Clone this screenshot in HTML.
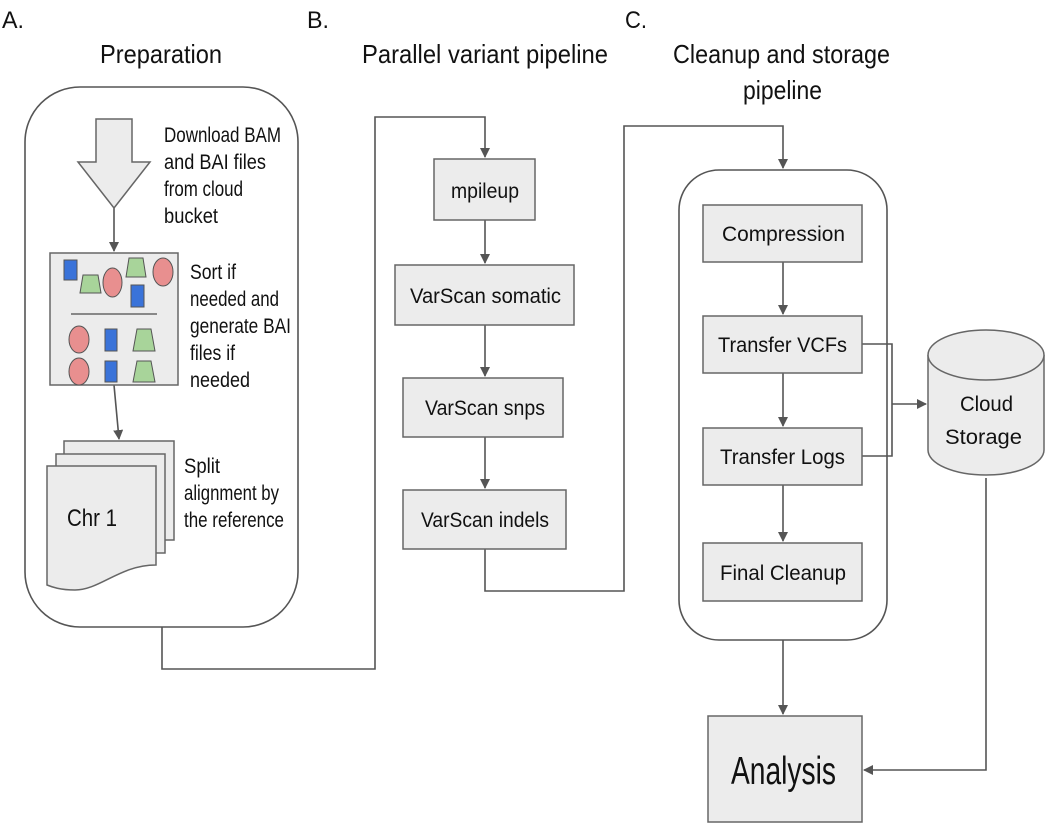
<!DOCTYPE html>
<html><head><style>
html,body{margin:0;padding:0;background:#fff;}
svg{display:block;font-family:"Liberation Sans",sans-serif;}
</style></head><body>
<svg width="1050" height="828" viewBox="0 0 1050 828" xmlns="http://www.w3.org/2000/svg">
<defs>
<marker id="ah" markerWidth="10" markerHeight="10" refX="9" refY="5" orient="auto" markerUnits="userSpaceOnUse">
<path d="M0,0 L10,5 L0,10 z" fill="#555"/></marker>
</defs>
<text x="2" y="28" font-size="24" fill="#111" textLength="22" lengthAdjust="spacingAndGlyphs">A.</text>
<text x="100" y="63" font-size="26" fill="#111" textLength="122" lengthAdjust="spacingAndGlyphs">Preparation</text>
<text x="307" y="28" font-size="24" fill="#111" textLength="22" lengthAdjust="spacingAndGlyphs">B.</text>
<text x="362" y="63" font-size="26" fill="#111" textLength="246" lengthAdjust="spacingAndGlyphs">Parallel variant pipeline</text>
<text x="625" y="28" font-size="24" fill="#111" textLength="22" lengthAdjust="spacingAndGlyphs">C.</text>
<text x="673" y="63" font-size="26" fill="#111" textLength="217" lengthAdjust="spacingAndGlyphs">Cleanup and storage</text>
<text x="743" y="99" font-size="26" fill="#111" textLength="79" lengthAdjust="spacingAndGlyphs">pipeline</text>

<g stroke="#555" stroke-width="1.6" fill="none">
<rect x="25" y="87" width="273" height="540" rx="55"/>
<rect x="679" y="170" width="208" height="470" rx="40"/>
<path d="M162,627 V669 H375 V117 H485 V157" marker-end="url(#ah)"/>
<path d="M485,220 V263" marker-end="url(#ah)"/>
<path d="M485,325 V376" marker-end="url(#ah)"/>
<path d="M485,437 V488" marker-end="url(#ah)"/>
<path d="M485,549 V591 H624 V126 H783 V168" marker-end="url(#ah)"/>
<path d="M783,262 V314" marker-end="url(#ah)"/>
<path d="M783,373 V426" marker-end="url(#ah)"/>
<path d="M783,485 V541" marker-end="url(#ah)"/>
<path d="M783,640 V714" marker-end="url(#ah)"/>
<path d="M862,344 H892 V456 H862"/>
<path d="M892,404 H926" marker-end="url(#ah)"/>
<path d="M986,478 V770 H864" marker-end="url(#ah)"/>
<path d="M114,208 L114,251" marker-end="url(#ah)"/>
<path d="M114,385 L119,439" marker-end="url(#ah)"/>
</g>

<path d="M96,119 H132 V162 H150 L114,208 L78,162 H96 Z" fill="#ececec" stroke="#666" stroke-width="1.5"/>
<rect x="50" y="253" width="128" height="132" fill="#ececec" stroke="#666" stroke-width="1.5"/>
<line x1="71" y1="314" x2="157" y2="314" stroke="#666" stroke-width="1.5"/>
<g stroke="#555" stroke-width="1">
<rect x="64" y="260" width="13" height="20" fill="#3a73d9"/>
<rect x="131" y="285" width="13" height="22" fill="#3a73d9"/>
<rect x="105" y="329" width="12" height="22" fill="#3a73d9"/>
<rect x="105" y="361" width="12" height="21" fill="#3a73d9"/>
<path d="M83,275 H98 L101,293 H80 Z" fill="#a8d49a"/>
<path d="M129,258 H143 L146,277 H126 Z" fill="#a8d49a"/>
<path d="M137,329 H151 L155,351 H133 Z" fill="#a8d49a"/>
<path d="M137,361 H151 L155,382 H133 Z" fill="#a8d49a"/>
<ellipse cx="112.5" cy="282.5" rx="9.5" ry="14.5" fill="#e88f8f"/>
<ellipse cx="163" cy="272" rx="10" ry="14" fill="#e88f8f"/>
<ellipse cx="79" cy="339.5" rx="10" ry="13.5" fill="#e88f8f"/>
<ellipse cx="79" cy="371.5" rx="10" ry="13.5" fill="#e88f8f"/>
</g>
<g fill="#ececec" stroke="#666" stroke-width="1.5">
<rect x="64" y="441" width="110" height="99"/>
<rect x="56" y="454" width="109" height="99"/>
<path d="M47,466 H156 V565 C120,565 100,590 75,590 C60,590 52,587 47,585 Z"/>
</g>
<text x="67" y="526" font-size="24" fill="#111" textLength="50" lengthAdjust="spacingAndGlyphs">Chr 1</text>

<g font-size="21" fill="#111">
<text x="164" y="142" textLength="117" lengthAdjust="spacingAndGlyphs">Download BAM</text>
<text x="164" y="169" textLength="102" lengthAdjust="spacingAndGlyphs">and BAI files</text>
<text x="164" y="196" textLength="79" lengthAdjust="spacingAndGlyphs">from cloud</text>
<text x="164" y="223" textLength="54" lengthAdjust="spacingAndGlyphs">bucket</text>
<text x="190" y="279" textLength="46" lengthAdjust="spacingAndGlyphs">Sort if</text>
<text x="190" y="306" textLength="89" lengthAdjust="spacingAndGlyphs">needed and</text>
<text x="190" y="333" textLength="101" lengthAdjust="spacingAndGlyphs">generate BAI</text>
<text x="190" y="360" textLength="45" lengthAdjust="spacingAndGlyphs">files if</text>
<text x="190" y="387" textLength="60" lengthAdjust="spacingAndGlyphs">needed</text>
<text x="184" y="473" textLength="36" lengthAdjust="spacingAndGlyphs">Split</text>
<text x="184" y="500" textLength="95" lengthAdjust="spacingAndGlyphs">alignment by</text>
<text x="184" y="527" textLength="100" lengthAdjust="spacingAndGlyphs">the reference</text>
</g>

<g fill="#ececec" stroke="#666" stroke-width="1.5">
<rect x="434" y="159" width="101" height="61"/>
<rect x="395" y="265" width="179" height="60"/>
<rect x="403" y="378" width="160" height="59"/>
<rect x="403" y="490" width="163" height="59"/>
<rect x="703" y="205" width="159" height="57"/>
<rect x="703" y="316" width="159" height="57"/>
<rect x="703" y="428" width="159" height="57"/>
<rect x="703" y="543" width="159" height="58"/>
<rect x="708" y="716" width="154" height="106"/>
<path d="M928,355 V450 A58,25 0 0 0 1044,450 V355"/>
<ellipse cx="986" cy="355" rx="58" ry="25"/>
</g>
<g font-size="21" fill="#111">
<text x="451" y="198" textLength="68" lengthAdjust="spacingAndGlyphs">mpileup</text>
<text x="410" y="303" textLength="151" lengthAdjust="spacingAndGlyphs">VarScan somatic</text>
<text x="425" y="415" textLength="120" lengthAdjust="spacingAndGlyphs">VarScan snps</text>
<text x="421" y="527" textLength="128" lengthAdjust="spacingAndGlyphs">VarScan indels</text>
<text x="722" y="241" textLength="123" lengthAdjust="spacingAndGlyphs">Compression</text>
<text x="718" y="352" textLength="129" lengthAdjust="spacingAndGlyphs">Transfer VCFs</text>
<text x="720" y="464" textLength="125" lengthAdjust="spacingAndGlyphs">Transfer Logs</text>
<text x="720" y="580" textLength="126" lengthAdjust="spacingAndGlyphs">Final Cleanup</text>
<text x="960" y="411" textLength="53" lengthAdjust="spacingAndGlyphs">Cloud</text>
<text x="945" y="444" textLength="77" lengthAdjust="spacingAndGlyphs">Storage</text>
<text x="731" y="784" font-size="39" textLength="105" lengthAdjust="spacingAndGlyphs">Analysis</text>
</g>
</svg>
</body></html>
